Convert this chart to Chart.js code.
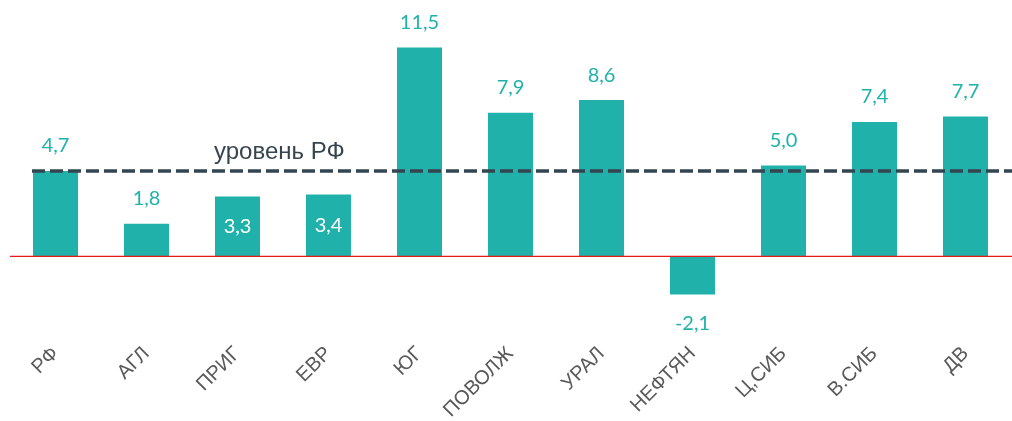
<!DOCTYPE html>
<html>
<head>
<meta charset="utf-8">
<script src="https://cdn.jsdelivr.net/npm/chart.js@4/dist/chart.umd.min.js"></script>
<style>
  html, body { margin: 0; padding: 0; background: #fff; }
  #wrap { width: 1012px; height: 421px; position: relative; }
</style>
</head>
<body>
<div id="wrap"><canvas id="c"></canvas></div>
<script>
const categories = ['РФ', 'АГЛ', 'ПРИГ', 'ЕВР', 'ЮГ', 'ПОВОЛЖ', 'УРАЛ', 'НЕФТЯН', 'Ц,СИБ', 'В.СИБ', 'ДВ'];
const values = [4.7, 1.8, 3.3, 3.4, 11.5, 7.9, 8.6, -2.1, 5.0, 7.4, 7.7];
const referenceLevel = 4.7;
const referenceLabel = 'уровень РФ';
const insideLabelCategories = ['ПРИГ', 'ЕВР'];

const TEAL = '#20B2AA';

const overlayPlugin = {
  id: 'overlay',
  afterDatasetsDraw(chart) {
    const ctx = chart.ctx;
    const area = chart.chartArea;
    const y = chart.scales.y;
    const meta = chart.getDatasetMeta(0);

    // zero line
    const y0 = y.getPixelForValue(0);
    ctx.save();
    ctx.strokeStyle = '#E41B17';
    ctx.lineWidth = 1.3;
    ctx.beginPath();
    ctx.moveTo(area.left, y0);
    ctx.lineTo(area.right + 2, y0);
    ctx.stroke();

    // value labels
    ctx.font = '20px Lato';
    ctx.textAlign = 'center';
    ctx.textBaseline = 'middle';
    meta.data.forEach((bar, i) => {
      const v = values[i];
      const txt = v.toFixed(1).replace('.', ',');
      if (insideLabelCategories.includes(categories[i])) {
        ctx.fillStyle = '#ffffff';
        ctx.fillText(txt, bar.x, (bar.y + bar.base) / 2);
      } else if (v >= 0) {
        ctx.fillStyle = TEAL;
        ctx.fillText(txt, bar.x, bar.y - 25);
      } else {
        ctx.fillStyle = TEAL;
        ctx.fillText(txt, bar.x, bar.y + 29);
      }
    });

    // reference dashed line
    const yr = y.getPixelForValue(referenceLevel);
    const first = meta.data[0];
    ctx.strokeStyle = '#334550';
    ctx.lineWidth = 3.5;
    ctx.setLineDash([13, 5]);
    ctx.beginPath();
    ctx.moveTo(first.x - first.width / 2 - 1, yr);
    ctx.lineTo(area.right + 2, yr);
    ctx.stroke();
    ctx.setLineDash([]);

    // reference label
    ctx.font = '24px "Liberation Sans", Arial, sans-serif';
    ctx.fillStyle = '#37454F';
    ctx.textAlign = 'left';
    ctx.textBaseline = 'alphabetic';
    ctx.fillText(referenceLabel, 214, yr - 12);
    ctx.restore();
  }
};

new Chart(document.getElementById('c'), {
  type: 'bar',
  data: {
    labels: categories,
    datasets: [{
      data: values,
      backgroundColor: TEAL,
      borderWidth: 0,
      categoryPercentage: 1.0,
      barPercentage: 0.495
    }]
  },
  options: {
    responsive: true,
    maintainAspectRatio: false,
    animation: false,
    layout: { padding: { left: 10, right: 1, top: 2, bottom: 0 } },
    plugins: {
      legend: { display: false },
      tooltip: { enabled: false }
    },
    scales: {
      x: {
        grid: { display: false, drawTicks: false },
        border: { display: false },
        ticks: {
          autoSkip: false,
          minRotation: 45,
          maxRotation: 45,
          padding: 13,
          color: '#595959',
          font: { family: '"Liberation Sans", Arial, sans-serif', size: 20 }
        },
        afterFit(scale) {
          scale.height = 92;
          scale.paddingLeft = 0;
          scale.paddingRight = 0;
        }
      },
      y: {
        display: false,
        min: -4,
        max: 14
      }
    }
  },
  plugins: [overlayPlugin]
});
</script>
</body>
</html>
